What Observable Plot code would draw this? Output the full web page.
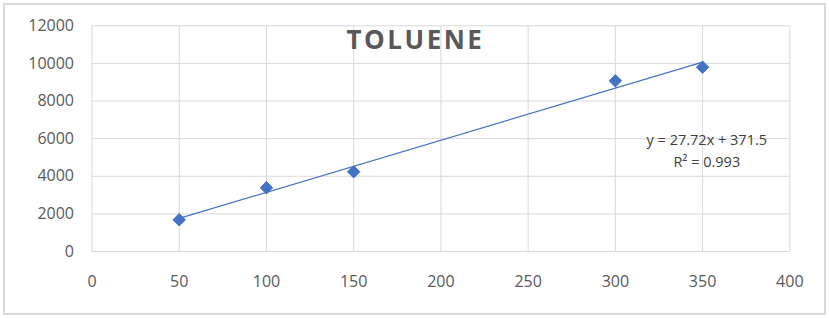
<!DOCTYPE html>
<html>
<head>
<meta charset="utf-8">
<script src="https://cdn.jsdelivr.net/npm/d3@7"></script>
<script src="https://cdn.jsdelivr.net/npm/@observablehq/plot@0.6"></script>
<style>
  html, body { margin: 0; padding: 0; background: #fff; }
  #wrap { position: relative; width: 829px; height: 318px; }
  #border { position: absolute; left: 3px; top: 3px; width: 819px; height: 308px; border: 2px solid #d9d9d9; pointer-events: none; }
  #title { position: absolute; left: 0; width: 829px; top: 21px; text-align: center; padding-left: 2px; box-sizing: border-box;
           font: bold 26px "Open Sans", sans-serif; letter-spacing: 2.5px; color: #595959; }
</style>
</head>
<body>
<div id="wrap"><div id="border"></div><div id="title"></div></div>
<script>
const title = "TOLUENE";
const concentration = [50, 100, 150, 300, 350];
const response = [1685, 3387, 4237, 9075, 9800];
const xTicks = [0, 50, 100, 150, 200, 250, 300, 350, 400];
const yTicks = [0, 2000, 4000, 6000, 8000, 10000, 12000];
const equationLines = ["y = 27.72x + 371.5", "R² = 0.993"];

const data = concentration.map((x, i) => ({x, y: response[i]}));
const blue = "#4472c4";
const fmt = d => String(d);

const chart = Plot.plot({
  width: 829,
  height: 318,
  marginLeft: 91.5,
  marginRight: 39.7,
  marginTop: 25.3,
  marginBottom: 67,
  style: {fontFamily: "'Open Sans', sans-serif", fontSize: "16px", color: "#595959", background: "transparent"},
  x: {domain: [0, 400]},
  y: {domain: [0, 12000]},
  marks: [
    Plot.gridX(xTicks, {stroke: "#d9d9d9", strokeOpacity: 1}),
    Plot.gridY(yTicks, {stroke: "#d9d9d9", strokeOpacity: 1}),
    Plot.axisX(xTicks, {tickSize: 0, tickPadding: 24, label: null, fill: "#595959", tickFormat: fmt}),
    Plot.axisY(yTicks, {tickSize: 0, tickPadding: 18, label: null, fill: "#595959", tickFormat: fmt}),
    Plot.linearRegressionY(data, {x: "x", y: "y", ci: 0, stroke: blue, strokeWidth: 1.2}),
    Plot.dot(data, {x: "x", y: "y", symbol: "diamond2", r: 5.6, fill: blue, stroke: blue, strokeWidth: 1}),
    Plot.text([equationLines.join("\n")], {
      frameAnchor: "top-right", dx: -83, dy: 104, textAnchor: "middle", lineAnchor: "top",
      lineHeight: 1.5, fontSize: 14.5, fill: "#404040"
    })
  ]
});
chart.style.position = "absolute";
chart.style.left = "0";
chart.style.top = "0";
const wrap = document.getElementById("wrap");
wrap.insertBefore(chart, wrap.firstChild);
document.getElementById("title").textContent = title;
</script>
</body>
</html>
